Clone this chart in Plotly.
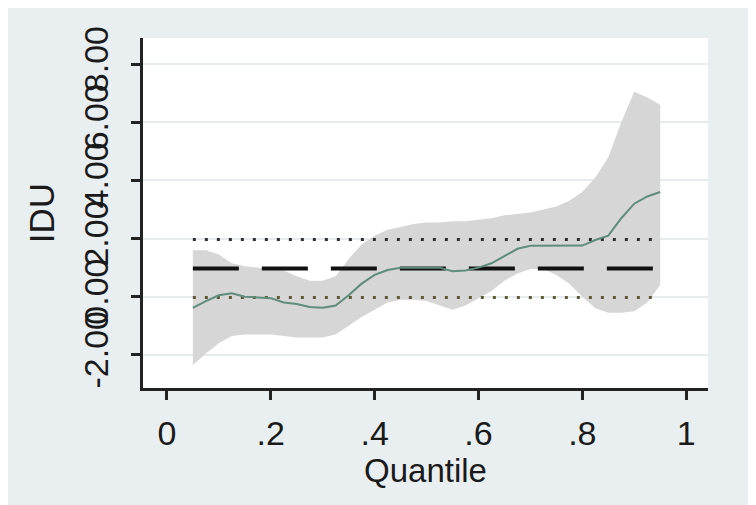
import plotly.graph_objects as go

quantiles = [0.05, 0.075, 0.1, 0.125, 0.15, 0.175, 0.2, 0.225, 0.25, 0.275, 0.3, 0.325,
             0.35, 0.375, 0.4, 0.425, 0.45, 0.475, 0.5, 0.525, 0.55, 0.575, 0.6, 0.625,
             0.65, 0.675, 0.7, 0.725, 0.75, 0.775, 0.8, 0.825, 0.85, 0.875, 0.9, 0.925, 0.95]
coef = [-0.38, -0.15, 0.05, 0.12, 0.0, -0.03, -0.05, -0.2, -0.25, -0.35, -0.38, -0.3,
        0.05, 0.45, 0.75, 0.92, 1.0, 1.0, 1.0, 1.0, 0.88, 0.9, 1.0, 1.15,
        1.4, 1.65, 1.75, 1.75, 1.75, 1.75, 1.76, 1.95, 2.1, 2.7, 3.2, 3.45, 3.6]
upper = [1.6, 1.6, 1.45, 1.15, 1.05, 1.0, 0.95, 0.9, 0.7, 0.55, 0.55, 0.7,
         1.3, 1.8, 2.1, 2.3, 2.4, 2.5, 2.55, 2.55, 2.6, 2.6, 2.65, 2.7,
         2.8, 2.85, 2.9, 3.0, 3.1, 3.3, 3.6, 4.1, 4.8, 6.0, 7.05, 6.85, 6.6]
lower = [-2.35, -1.95, -1.6, -1.35, -1.3, -1.3, -1.3, -1.35, -1.4, -1.4, -1.4, -1.3,
         -1.0, -0.7, -0.45, -0.2, -0.1, -0.1, -0.15, -0.3, -0.45, -0.3, -0.05, 0.2,
         0.55, 0.8, 0.95, 0.95, 0.75, 0.45, 0.0, -0.4, -0.55, -0.55, -0.5, -0.2, 0.4]
ols_coef = 0.97
ols_lo = -0.03
ols_hi = 1.97
y_ticks = [-2, 0, 2, 4, 6, 8]
y_labels = ["-2.00", "0.00", "2.00", "4.00", "6.00", "8.00"]
x_ticks = [0, 0.2, 0.4, 0.6, 0.8, 1]
x_labels = ["0", ".2", ".4", ".6", ".8", "1"]

fig = go.Figure()
fig.add_trace(go.Scatter(x=quantiles + quantiles[::-1], y=upper + lower[::-1],
                         fill="toself", fillcolor="#d6d6d6", line=dict(width=0),
                         mode="lines", hoverinfo="skip", showlegend=False))
qmin, qmax = quantiles[0], quantiles[-1]
fig.add_trace(go.Scatter(x=[qmin, qmax], y=[ols_hi, ols_hi], mode="lines",
                         line=dict(color="#2e2e2e", width=3, dash="3px,9px"), showlegend=False))
fig.add_trace(go.Scatter(x=[qmin, qmax], y=[ols_lo, ols_lo], mode="lines",
                         line=dict(color="#5e5838", width=3, dash="3px,9px"), showlegend=False))
fig.add_trace(go.Scatter(x=[qmin, qmax], y=[ols_coef, ols_coef], mode="lines",
                         line=dict(color="#111111", width=4, dash="46px,23px"), showlegend=False))
fig.add_trace(go.Scatter(x=quantiles, y=coef, mode="lines", line=dict(color="#5f8c7c", width=2),
                         showlegend=False))

font_family = "Liberation Sans, Arial, sans-serif"
fig.update_layout(
    width=748, height=497,
    margin=dict(l=135, r=48, t=30, b=117),
    paper_bgcolor="#e9eff1", plot_bgcolor="#ffffff",
    font=dict(family=font_family, color="#1a1a1a", size=34),
    xaxis=dict(range=[-0.046, 1.042], tickvals=x_ticks, ticktext=x_labels,
               showgrid=False, zeroline=False, showline=True, linecolor="#222222", linewidth=2.5,
               ticks="outside", ticklen=9, tickwidth=2.5, tickcolor="#222222",
               tickfont=dict(size=34), ticklabelstandoff=4,
               title=dict(text="Quantile", font=dict(size=33), standoff=4)),
    yaxis=dict(range=[-3.14, 8.9], tickvals=y_ticks, ticktext=y_labels, tickangle=-90,
               showgrid=True, gridcolor="#e6ecee", gridwidth=2, zeroline=False,
               showline=True, linecolor="#222222", linewidth=2.5,
               ticks="outside", ticklen=9, tickwidth=2.5, tickcolor="#222222",
               tickfont=dict(size=34), ticklabelstandoff=10,
               title=dict(text="IDU", font=dict(size=35), standoff=12)),
)
fig.write_html("out.html")
